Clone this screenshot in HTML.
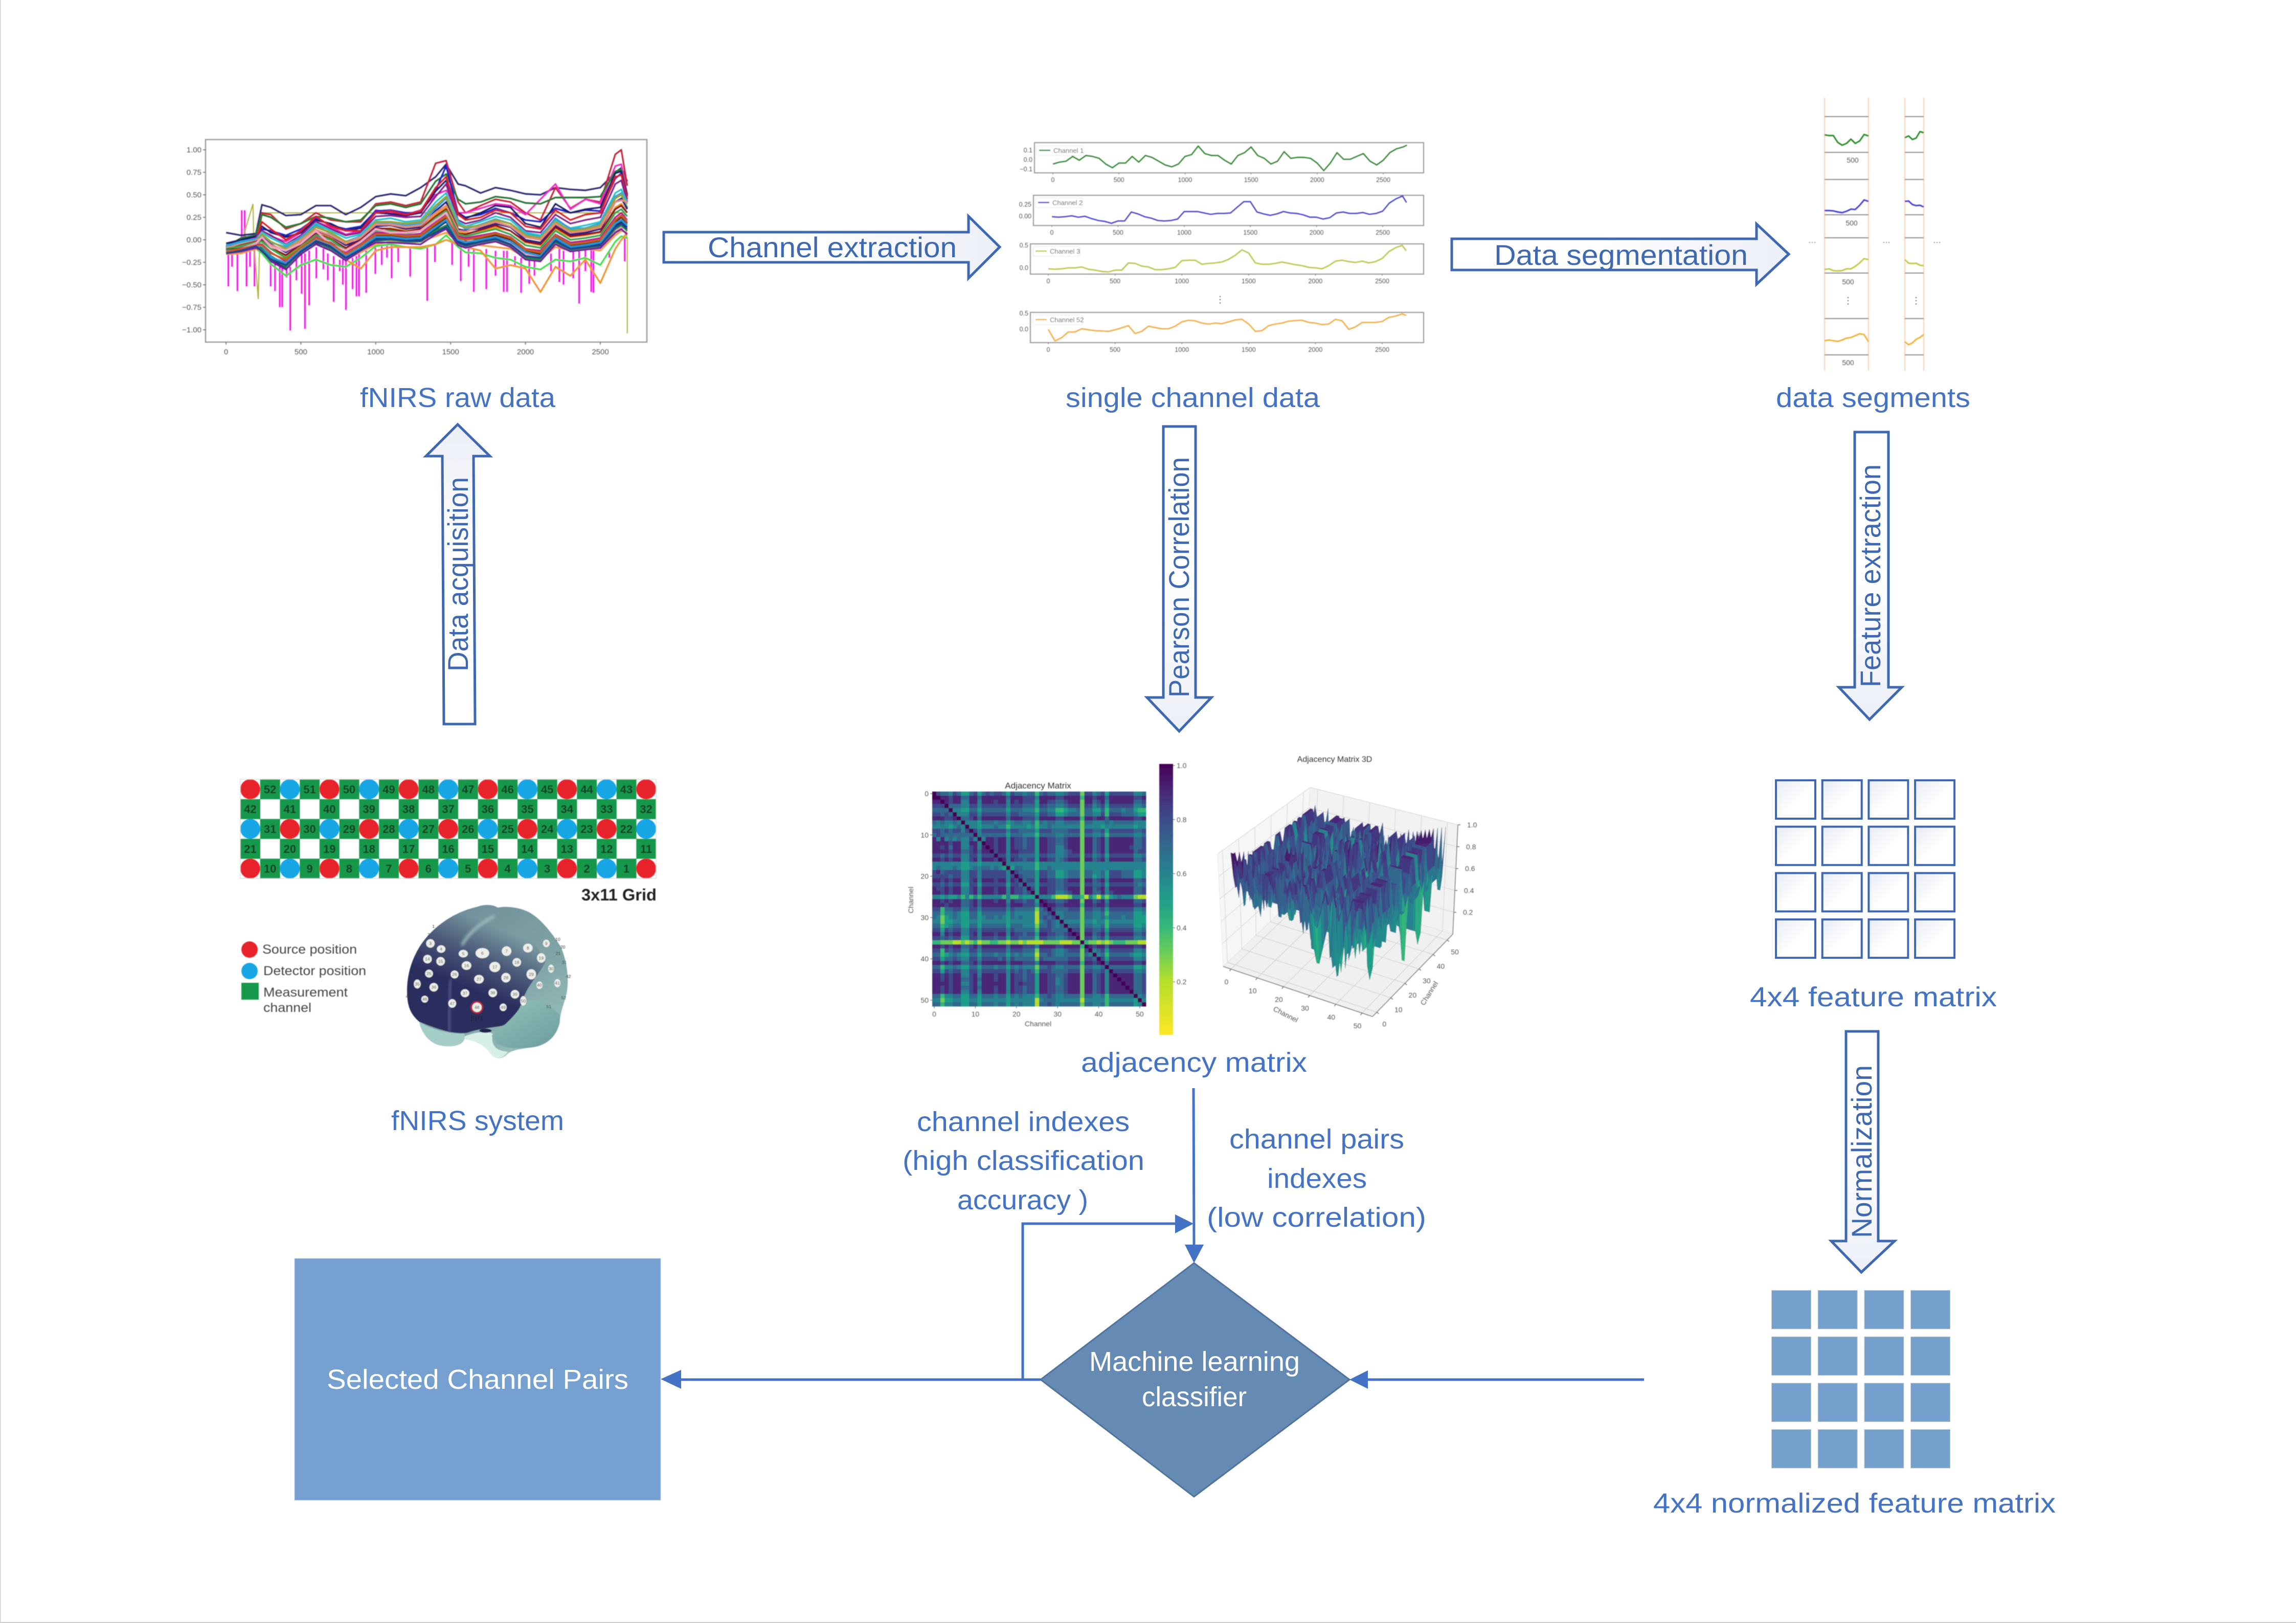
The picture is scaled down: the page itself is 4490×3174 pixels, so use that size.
<!DOCTYPE html>
<html lang="en">
<head>
<meta charset="utf-8">
<title>fNIRS channel pair selection pipeline</title>
<style>
html,body{margin:0;padding:0;background:#fff;width:4490px;height:3174px;overflow:hidden}
svg{display:block}
text{font-family:"Liberation Sans",sans-serif}
.lbl{font-size:54px;fill:#4472c4}
.arr{font-size:56px;fill:#3f68b3}
.wht{font-size:54px;fill:#fff}
.tick{font-size:14px;fill:#555}
.blk{fill:#eef1f8;stroke:#3f68b3;stroke-width:5}
.ln{stroke:#4472c4;stroke-width:5;fill:none}
.hd{fill:#4472c4}
</style>
</head>
<body>
<svg id="root" width="4490" height="3174" viewBox="0 0 4490 3174" xmlns="http://www.w3.org/2000/svg">
<defs>
<linearGradient id="gR" x1="0" x2="1" y1="0" y2="0"><stop offset="0.4" stop-color="#fff"/><stop offset="1" stop-color="#eceff7"/></linearGradient>
<linearGradient id="gD" x1="0" x2="0" y1="0" y2="1"><stop offset="0.45" stop-color="#fff"/><stop offset="1" stop-color="#eceff7"/></linearGradient>
<linearGradient id="gU" x1="0" x2="0" y1="1" y2="0"><stop offset="0.55" stop-color="#fff"/><stop offset="1" stop-color="#eceef7"/></linearGradient>
<linearGradient id="gC" x1="0" x2="0.8" y1="0" y2="0.8"><stop offset="0" stop-color="#e8ebf5"/><stop offset="0.7" stop-color="#fff"/></linearGradient>
<linearGradient id="gBar" x1="0" x2="0" y1="0" y2="1">
<stop offset="0" stop-color="#440154"/><stop offset="0.1" stop-color="#482878"/><stop offset="0.2" stop-color="#3e4a89"/><stop offset="0.3" stop-color="#31688e"/><stop offset="0.4" stop-color="#26828e"/><stop offset="0.5" stop-color="#1f9e89"/><stop offset="0.6" stop-color="#35b779"/><stop offset="0.7" stop-color="#6ece58"/><stop offset="0.8" stop-color="#b5de2b"/><stop offset="1" stop-color="#fde725"/>
</linearGradient>
<linearGradient id="gBrain" x1="0.2" x2="0.9" y1="0" y2="1"><stop offset="0" stop-color="#6f8c98"/><stop offset="0.55" stop-color="#7fa3a6"/><stop offset="1" stop-color="#9cc6c0"/></linearGradient>
<linearGradient id="gDark" x1="0.72" x2="0.36" y1="0" y2="0.8"><stop offset="0.2" stop-color="#2b2d5e" stop-opacity="0"/><stop offset="0.5" stop-color="#2b2d5e" stop-opacity="0.6"/><stop offset="0.8" stop-color="#2b2d5e" stop-opacity="1"/></linearGradient>
<linearGradient id="gRightLobe" x1="0.1" x2="0.9" y1="0" y2="1"><stop offset="0" stop-color="#8fc2b8"/><stop offset="1" stop-color="#6f9da0"/></linearGradient>
<filter id="soft" x="-5%" y="-5%" width="110%" height="110%"><feGaussianBlur stdDeviation="0.8"/></filter>
<filter id="softB" x="-5%" y="-5%" width="110%" height="110%"><feGaussianBlur stdDeviation="2.4"/></filter>
<filter id="softC" x="-40%" y="-40%" width="180%" height="180%"><feGaussianBlur stdDeviation="9"/></filter>
<clipPath id="brainClip"><path d="M580 60C620 50 700 55 760 85C830 120 900 210 950 290C985 370 1000 470 985 560C965 640 945 680 945 730C930 810 870 870 780 880C700 890 660 900 640 915C610 950 570 950 545 925C520 890 480 845 385 830C375 870 310 880 250 870C180 860 130 790 120 730C85 700 55 660 50 590C40 480 70 380 110 310C170 200 300 90 460 55C500 40 550 40 580 60Z"/></clipPath>
</defs>

<rect x="0" y="0" width="4490" height="3174" fill="#fff"/>
<rect x="0" y="0" width="1.5" height="3174" fill="#d0d0d0"/>
<rect x="0" y="3172" width="4490" height="2" fill="#cccccc"/>

<!-- block arrows -->
<polygon class="blk" style="fill:url(#gR)" points="1298,454 1894,454 1894,423 1955,483 1894,544 1894,513 1298,513"/>
<text class="arr" x="1384" y="503" textLength="487" lengthAdjust="spacingAndGlyphs">Channel extraction</text>
<polygon class="blk" style="fill:url(#gR)" points="2839,467 3435,467 3435,438 3498,497 3435,556 3435,528 2839,528"/>
<text class="arr" x="2922" y="518" textLength="496" lengthAdjust="spacingAndGlyphs">Data segmentation</text>
<polygon class="blk" style="fill:url(#gU)" points="868,1416 865,892 833,892 895,830 958,892 926,892 929,1416"/>
<text class="arr" transform="translate(915,1313) rotate(-90)" textLength="380" lengthAdjust="spacingAndGlyphs">Data acquisition</text>
<polygon class="blk" style="fill:url(#gD)" points="2275,834 2338,834 2338,1364 2369,1364 2306,1430 2243,1364 2275,1364"/>
<text class="arr" transform="translate(2325,1364) rotate(-90)" textLength="470" lengthAdjust="spacingAndGlyphs">Pearson Correlation</text>
<polygon class="blk" style="fill:url(#gD)" points="3627,845 3693,845 3693,1344 3719,1344 3656,1407 3596,1344 3627,1344"/>
<text class="arr" transform="translate(3677,1344) rotate(-90)" textLength="436" lengthAdjust="spacingAndGlyphs">Feature extraction</text>
<polygon class="blk" style="fill:url(#gD)" points="3610,2017 3673,2017 3673,2427 3705,2427 3640,2488 3581,2427 3610,2427"/>
<text class="arr" transform="translate(3660,2421) rotate(-90)" textLength="338" lengthAdjust="spacingAndGlyphs">Normalization</text>

<!-- section captions -->
<text class="lbl" x="704" y="796" textLength="382" lengthAdjust="spacingAndGlyphs">fNIRS raw data</text>
<text class="lbl" x="2084" y="796" textLength="497" lengthAdjust="spacingAndGlyphs">single channel data</text>
<text class="lbl" x="3473" y="796" textLength="380" lengthAdjust="spacingAndGlyphs">data segments</text>
<text class="lbl" x="765" y="2210" textLength="338" lengthAdjust="spacingAndGlyphs">fNIRS system</text>
<text class="lbl" x="2114" y="2096" textLength="442" lengthAdjust="spacingAndGlyphs">adjacency matrix</text>
<text class="lbl" x="3422" y="1968" textLength="483" lengthAdjust="spacingAndGlyphs">4x4 feature matrix</text>
<text class="lbl" x="3233" y="2958" textLength="787" lengthAdjust="spacingAndGlyphs">4x4 normalized feature matrix</text>
<text class="lbl" x="1793" y="2212" textLength="416" lengthAdjust="spacingAndGlyphs">channel indexes</text>
<text class="lbl" x="1765" y="2288" textLength="473" lengthAdjust="spacingAndGlyphs">(high classification</text>
<text class="lbl" x="1872" y="2365" textLength="256" lengthAdjust="spacingAndGlyphs">accuracy )</text>
<text class="lbl" x="2404" y="2246" textLength="342" lengthAdjust="spacingAndGlyphs">channel pairs</text>
<text class="lbl" x="2478" y="2323" textLength="195" lengthAdjust="spacingAndGlyphs">indexes</text>
<text class="lbl" x="2360" y="2399" textLength="429" lengthAdjust="spacingAndGlyphs">(low correlation)</text>

<!-- connectors -->
<line class="ln" x1="2334" y1="2128" x2="2335" y2="2440"/>
<polygon class="hd" points="2317,2434 2354,2434 2335,2470"/>
<polyline class="ln" points="2035,2698 2000,2698 2000,2393 2300,2393"/>
<polygon class="hd" points="2298,2375 2334,2393 2298,2412"/>
<line class="ln" x1="2035" y1="2698" x2="1330" y2="2698"/>
<polygon class="hd" points="1332,2679 1292,2697 1332,2716"/>
<line class="ln" x1="3215" y1="2698" x2="2670" y2="2698"/>
<polygon class="hd" points="2675,2680 2639,2698 2675,2716"/>

<!-- classifier + result -->
<polygon points="2335,2470 2639,2698 2335,2927 2035,2698" fill="#658ab3" stroke="#50749b" stroke-width="3"/>
<text class="wht" x="2130" y="2681" textLength="412" lengthAdjust="spacingAndGlyphs">Machine learning</text>
<text class="wht" x="2233" y="2750" textLength="205" lengthAdjust="spacingAndGlyphs">classifier</text>
<rect x="576" y="2461" width="716" height="473" fill="#75a0cf" stroke="#c8d2e0" stroke-width="1"/>
<text class="wht" x="639" y="2716" textLength="590" lengthAdjust="spacingAndGlyphs">Selected Channel Pairs</text>

<!-- script-filled groups -->
<g id="rawChart" filter="url(#soft)"></g>
<g id="channelCharts" filter="url(#soft)"></g>
<g id="segments" filter="url(#soft)"></g>
<g id="grid" filter="url(#soft)"></g>
<g id="heat" filter="url(#soft)"></g>
<g id="surf" filter="url(#soft)"></g>
<g id="featureGrid"></g>
<g id="normGrid"></g>

<!-- legend for the grid -->
<g filter="url(#soft)">
<ellipse cx="488" cy="1857" rx="16" ry="16" fill="#e8212a"/>
<text x="513" y="1865" font-size="25" fill="#444" textLength="185" lengthAdjust="spacingAndGlyphs">Source position</text>
<ellipse cx="488" cy="1899" rx="16" ry="16" fill="#12a5e5"/>
<text x="515" y="1907" font-size="25" fill="#444" textLength="201" lengthAdjust="spacingAndGlyphs">Detector position</text>
<rect x="472" y="1922" width="34" height="33" fill="#14984c"/>
<text x="515" y="1949" font-size="25" fill="#444" textLength="165" lengthAdjust="spacingAndGlyphs">Measurement</text>
<text x="515" y="1979" font-size="25" fill="#444" textLength="94" lengthAdjust="spacingAndGlyphs">channel</text>
<text x="1137" y="1761" font-size="32" font-weight="700" fill="#222" textLength="147" lengthAdjust="spacingAndGlyphs">3x11 Grid</text>
</g>

<!-- brain illustration, drawn in its own local coordinates -->
<g transform="translate(780,1755) scale(0.33333)" filter="url(#softB)">
<path d="M580 60C620 50 700 55 760 85C830 120 900 210 950 290C985 370 1000 470 985 560C965 640 945 680 945 730C930 810 870 870 780 880C700 890 660 900 640 915C610 950 570 950 545 925C520 890 480 845 385 830C375 870 310 880 250 870C180 860 130 790 120 730C85 700 55 660 50 590C40 480 70 380 110 310C170 200 300 90 460 55C500 40 550 40 580 60Z" fill="url(#gBrain)"/>
<g clip-path="url(#brainClip)">
<path d="M40 590C40 480 60 380 100 310C170 200 300 90 460 55C600 60 780 200 860 380C810 470 750 520 725 610C690 700 640 745 600 755C540 765 470 770 400 795C300 805 200 760 120 730C85 700 45 660 40 590Z" fill="url(#gDark)"/>
<path d="M560 110C500 140 420 190 370 280" fill="none" stroke="#a8c8c6" stroke-width="14" filter="url(#softC)"/>
<path d="M305 480C295 600 290 700 295 790" fill="none" stroke="#5a6392" stroke-width="12" filter="url(#softC)"/>
<path d="M120 730C200 780 300 800 385 800L385 835C375 870 310 880 250 870C180 860 130 790 120 730Z" fill="#a3cdc6"/>
<path d="M385 815C450 790 520 780 550 800C540 860 560 900 640 905C610 950 570 950 545 925C520 890 470 850 385 832Z" fill="#d6efe9"/>
<path d="M545 810C610 760 680 700 730 620C780 590 850 600 945 690C945 810 870 870 780 880C690 890 560 890 545 810Z" fill="url(#gRightLobe)"/>
<ellipse cx="508" cy="782" rx="36" ry="12" fill="#20234f"/>
</g>
<g id="electrodes"></g>
<ellipse cx="458" cy="645" rx="33" ry="33" fill="none" stroke="#c2202a" stroke-width="8"/>
<text x="460" y="725" text-anchor="middle" font-size="42" fill="#1d1d3a">FP1</text>
</g>

<script>
/* ---------- raw fNIRS data ---------- */
const rawSamples = [0,100,200,240,300, 400,500,600,700,800, 900,1000,1100,1200,1300, 1400,1470,1550,1600,1700, 1800,1900,2000,2100,2200, 2300,2400,2500,2600,2640, 2680];
const rawValues = [
[-.16,-.13,-.08,-.1,-.2, -.25,-.1,0,-.1,-.22, -.14,-.05,-.02,-.03,-.02, .04,.08,-.02,-.04,-.06, -.08,-.1,-.2,-.22,-.08, -.12,-.1,-.12,.05,.1, .08],
[-.15,-.14,-.1,-.15,-.27, -.4,-.28,-.22,-.28,-.3, -.2,-.07,-.05,-.08,-.1, -.05,.05,-.08,-.14,-.15, -.2,-.22,-.3,-.33,-.22, -.24,-.2,-.28,-.02,.04, .02],
[-.16,-.15,-.1,-.12,-.2, -.26,-.12,-.05,-.12,-.22, -.32,-.12,-.08,-.08,-.08, -.05,0,-.05,-.08,-.12, -.32,-.28,-.32,-.58,-.3, -.4,-.22,-.48,-.1,0, .08],
[.08,.05,.07,.39,.36, .27,.28,.38,.38,.28, .36,.48,.51,.49,.58, .7,.84,.62,.6,.52, .58,.55,.51,.5,.58, .56,.55,.58,.75,.8, .65],
[-.1,0,.03,.3,.28, .12,.18,.3,.22,.2, .2,.4,.42,.38,.42, .85,.88,.42,.3,.38, .45,.42,.3,.22,.58, .35,.45,.42,.95,1, .6],
[-.1,-.06,0,.1,.04, -.02,.08,.2,.14,.06, .1,.33,.3,.28,.33, .5,.55,.3,.3,.35, .4,.38,.28,.45,.62, .34,.45,.4,.82,.84, .5],
[-.08,.02,.05,.28,.25, .14,.18,.26,.24,.2, .22,.38,.4,.36,.4, .65,.73,.45,.4,.42, .48,.46,.41,.4,.47, .47,.47,.48,.76,.78, .5],
[-.06,0,.02,.12,.1, .05,.12,.24,.16,.12, .15,.32,.33,.3,.3, .55,.82,.3,.25,.28, .35,.3,.22,.2,.35, .3,.33,.32,.68,.74, .5],
[-.04,0,.04,.15,.08, .03,.08,.22,.18,.1, .13,.3,.29,.27,.3, .54,.66,.3,.24,.3, .38,.36,.18,.14,.4, .3,.34,.36,.74,.76, .48],
[-.1,-.05,0,.2,.12, 0,.1,.26,.15,.1, .1,.3,.32,.28,.32, .58,.7,.28,.22,.25, .33,.3,.15,.12,.33, .22,.28,.3,.7,.72, .45],
[-.08,-.03,.02,.1,.05, -.05,.05,.2,.12,.05, .08,.26,.27,.25,.26, .48,.62,.22,.18,.22, .3,.25,.1,.08,.28, .18,.22,.25,.62,.66, .42],
[-.06,-.04,0,.08,.02, -.06,.02,.18,.1,.02, .06,.22,.24,.2,.22, .42,.52,.2,.15,.2, .26,.22,.08,.05,.22, .13,.16,.2,.52,.56, .4],
[-.07,-.02,.01,.04,-.03, -.08,.03,.16,.07,-.02, .04,.19,.18,.16,.18, .35,.46,.18,.12,.17, .23,.18,.06,.03,.24, .12,.13,.18,.48,.52, .35],
[-.1,-.05,-.02,.06,-.02, -.1,0,.14,.08,-.02, .02,.2,.2,.18,.2, .38,.48,.16,.14,.16, .22,.18,.05,.02,.2, .1,.12,.16,.46,.5, .36],
[-.09,-.06,-.02,.03,-.05, -.14,-.03,.1,.04,-.06, 0,.15,.16,.12,.14, .32,.42,.12,.1,.13, .18,.14,0,-.03,.16, .06,.08,.12,.42,.46, .34],
[-.09,-.05,-.01,.02,-.06, -.12,-.01,.11,.05,-.04, .03,.17,.17,.14,.16, .3,.38,.1,.09,.15, .2,.15,.03,0,.18, .08,.1,.14,.42,.44, .42],
[-.12,-.08,-.04,0,-.08, -.18,-.06,.08,.02,-.1, -.02,.12,.13,.1,.12, .28,.36,.08,.07,.1, .14,.1,-.03,-.06,.12, .03,.05,.08,.36,.4, .3],
[-.11,-.06,-.02,0,-.09, -.17,-.05,.07,.01,-.09, 0,.13,.12,.09,.12, .26,.34,.07,.06,.11, .16,.1,-.02,-.05,.14, .04,.06,.09,.34,.38, .3],
[-.1,-.07,-.03,-.02,-.1, -.2,-.08,.05,0,-.12, -.03,.1,.1,.07,.1, .24,.32,.06,.04,.08, .12,.06,-.06,-.09,.1, 0,.02,.05,.3,.34, .26],
[-.13,-.09,-.05,-.05,-.14, -.24,-.1,.03,-.03,-.14, -.05,.08,.08,.05,.07, .2,.28,.04,.02,.05, .08,.03,-.1,-.12,.06, -.03,-.01,.02,.25,.3, .22],
[-.11,-.1,-.06,-.08,-.18, -.28,-.12,0,-.06,-.17, -.07,.05,.05,.03,.04, .16,.24,.01,-.02,.02, .05,0,-.13,-.16,.03, -.06,-.04,-.01,.2,.25, .18],
[-.13,-.12,-.08,-.1,-.22, -.31,-.14,-.03,-.09,-.2, -.1,.02,.02,0,.01, .12,.2,-.02,-.05,-.01, .02,-.04,-.17,-.2,0, -.09,-.07,-.05,.16,.2, .14],
[-.14,-.1,-.04,.03,-.08, -.12,-.04,.1,-.05,-.12, -.02,.12,.08,.08,.1, .22,.3,0,0,-.02, .02,-.04,-.16,-.18,-.02, -.1,-.08,-.1,.1,.14, .12],
[-.14,-.12,-.08,-.1,-.2, -.3,-.15,-.02,-.1,-.21, -.1,-.01,0,-.02,-.02, .1,.16,-.04,-.07,-.03, 0,-.06,-.2,-.22,-.03, -.11,-.09,-.07,.12,.16, .1],
[-.15,-.13,-.09,-.12,-.24, -.33,-.16,-.05,-.12,-.23, -.12,-.03,-.03,-.04,-.05, .06,.12,-.06,-.09,-.05, -.02,-.08,-.22,-.24,-.05, -.13,-.11,-.09,.08,.12, .06],
[-.12,-.11,-.07,-.07,-.19, -.26,-.11,.01,-.05,-.18, -.08,.03,.03,.01,.02, .14,.22,0,-.03,0, .03,-.02,-.14,-.18,.02, -.08,-.06,-.03,.18,.22, .16],
[-.13,-.1,-.06,-.06,-.15, -.22,-.09,.02,-.04,-.16, -.06,.06,.06,.04,.05, .18,.26,.02,0,.03, .07,.02,-.11,-.14,.05, -.05,-.03,0,.22,.27, .2],
[-.15,-.12,-.07,-.13,-.22, -.28,-.13,-.02,-.08,-.2, -.11,0,.01,-.01,-.01, .08,.14,-.03,-.06,-.02, .01,-.05,-.18,-.2,-.01, -.1,-.08,-.06,.14,.18, .12]
];
const spikeSamples = [15,40,76,105,125,137,160,190,298,327, 359,375,405,429,470,505,527,555,603,650, 680,719,760,780,801,845,871,888,936,997, 1040,1075,1106,1150,1230,1344,1395,1510,1568,1620, 1655,1738,1800,1855,1877,1930,1971,2025,2060,2170, 2226,2254,2319,2358,2400,2439,2454,2560,2663];
const spikeValues = [-.52,-.3,-.57,.33,.33,-.52,-.3,-.52,-.52,-.57, -.75,-.75,-.42,-1.01,-.45,-.6,-.99,-.73,-.43,-.33, -.45,-.69,-.35,-.5,-.78,-.55,-.63,-.63,-.59,-.38, -.28,-.2,-.43,-.25,-.41,-.68,-.25,-.28,-.46,-.3, -.58,-.55,-.4,-.58,-.58,-.3,-.59,-.49,-.4,-.35, -.47,-.5,-.43,-.71,-.35,-.58,-.59,-.2,-.24];
const spikeBases = [-.12,-.12,-.15,-.05,-.05,-.12,-.12,-.1,-.2,-.22, -.25,-.28,-.3,-.3,-.15,-.15,-.15,-.12,-.08,-.1, -.15,-.18,-.22,-.22,-.22,-.2,-.18,-.15,-.12,-.08, -.06,-.05,-.06,-.06,-.08,-.08,-.04,-.03,-.05,-.1, -.1,-.1,-.12,-.12,-.12,-.18,-.2,-.2,-.22,-.15, -.1,-.12,-.1,-.1,-.12,-.1,-.1,-.12,.05];
const oliveSamples = [0,100,180,185,215,225,240,2660,2680,2680];
const oliveValues = [-.1,-.05,.4,0,-.66,0,.3,.3,0,-1.04];
const rawXTicks = [0,500,1000,1500,2000,2500];
const rawYTicks = [1,.75,.5,.25,0,-.25,-.5,-.75,-1];
const rawYLabels = ['1.00','0.75','0.50','0.25','0.00','\u22120.25','\u22120.50','\u22120.75','\u22121.00'];

/* ---------- single channel data ---------- */
const chSamples = [0,50,100,150,200,250,300,350,400,450, 500,550,600,650,700,750,800,850,900,950, 1000,1050,1100,1150,1200,1250,1300,1350,1400,1450, 1500,1550,1600,1650,1700,1750,1800,1850,1900,1950, 2000,2050,2100,2150,2200,2250,2300,2350,2400,2450, 2500,2550,2600,2650,2680];
const channel1 = [-.05,-.03,-.02,.03,-.01,.04,.03,.01,-.05,-.09, -.04,-.04,.03,-.03,.04,.02,-.02,-.06,-.08,-.05, .03,.05,.14,.06,.04,.04,-.01,-.05,.04,.07, .13,.04,.01,-.05,-.02,.08,.01,.02,.02,.01, -.04,-.12,-.04,.07,0,0,.03,.06,-.02,-.06, -.01,.07,.11,.13,.15];
const channel2 = [-.02,-.03,-.02,0,-.03,-.01,-.06,-.1,-.12,-.16, -.11,-.11,.08,.04,-.02,-.05,-.1,-.11,-.1,-.07, .09,.09,.09,.06,.03,.05,.05,.06,.18,.3, .3,.08,.04,.01,.04,.09,.06,.05,.02,-.03, -.03,-.07,-.04,.06,.08,.05,.05,.07,.03,.05, .1,.27,.36,.42,.28];
const channel3 = [-.03,-.04,-.03,-.01,-.01,.01,-.04,-.06,-.09,-.1, -.06,-.06,.1,.09,.03,.01,-.05,-.05,-.03,0, .15,.16,.16,.07,.09,.1,.12,.18,.27,.39, .32,.1,.07,.07,.09,.12,.09,.06,.04,0, -.01,-.03,.04,.14,.16,.13,.11,.14,.1,.13, .2,.35,.44,.49,.37];
const channel52 = [-.02,-.38,-.28,-.1,-.1,0,-.03,-.06,-.07,-.08, -.03,.03,.1,-.15,-.08,.08,.04,0,0,.08, .22,.27,.25,.18,.15,.18,.16,.22,.28,.3, .15,-.08,-.06,.1,.15,.18,.24,.26,.27,.2, .18,.13,.15,.3,.25,-.02,.06,.2,.2,.2, .23,.36,.4,.47,.42];
const chXTicks = [0,500,1000,1500,2000,2500];

/* ---------- data segments (fraction of panel height) ---------- */
const segGreenA = [.49,.47,.47,.28,.2,.25,.37,.25,.32,.5,.46];
const segGreenB = [.41,.46,.36,.4,.58,.55];
const segBlueA = [.12,.12,.11,.08,.06,.1,.16,.15,.27,.42,.38];
const segBlueB = [.38,.39,.29,.26,.27,.22];
const segOliveA = [.1,.12,.07,.06,.07,.12,.12,.19,.29,.41,.38];
const segOliveB = [.38,.28,.27,.28,.22,.21];
const segOrangeA = [.39,.41,.39,.37,.41,.46,.48,.53,.58,.56,.36];
const segOrangeB = [.36,.28,.33,.43,.48,.56];

/* ---------- adjacency matrix, digit d means correlation d/9 ---------- */
const adjacencyRows = [
"9766576446 7467677647 6656636766 5567772775 6747777775 56",
"9988788668 8688888868 8877758888 7788883887 8868888887 78",
"8898788558 8588878858 7877748877 6678882886 7858888886 67",
"7779666557 7577777757 7766647766 5567772775 6747777775 56",
"6666955446 6466666646 6655536655 3345562664 4636665664 33",
"7767695557 7577777757 7666647766 4456662665 5737776665 44",
"8887789667 8688888868 8877758888 7788883887 8868888887 78",
"6565565955 5466656645 6655636566 5566662665 5565666665 55",
"5555456595 5455565535 5554535565 5555552555 5455555554 55",
"7767677579 7577777757 7666647776 6667772776 6747777776 67",
"6766666666 9566666646 6655536666 5566662665 5636666665 56",
"8585656557 5958878858 7767748877 6678882886 7858888886 67",
"8888788558 8598878858 7767748877 6678882886 7858888886 67",
"8878688557 8589878858 7767748877 5578882886 7858888876 67",
"8888788667 8688978858 8777748877 5567882886 7858888886 77",
"7767677557 7577797757 7666647766 5567772775 6747777775 56",
"8878788557 8588879858 7767748877 5678882886 7858888886 67",
"5555555445 5455555955 5555535555 5555552555 5555555555 55",
"5655565445 6566565494 6655535565 5555552555 5555555555 55",
"7867777557 7577777759 7666647766 4456662665 5647776664 45",
"7777677557 7577777757 9766647766 4456662664 5647776664 45",
"8878788557 8588878858 7967748877 6678882886 7858888886 67",
"7767677447 7477777747 7696647777 6677772776 6747777776 56",
"8778788557 8588878858 7769748877 6678882886 7858888886 67",
"8878788557 8588878858 7767948877 5567882886 6857888886 67",
"5545445353 5355555353 3544495553 1112553153 1424565552 11",
"8878788667 8688878858 7767749877 6678882886 7858888886 67",
"8887888667 8688888868 8877758988 7788883887 8868888887 78",
"7736677557 7577777757 6666626797 6667772776 6747777775 56",
"6635565446 6466666646 5555516679 5566662665 5636666664 45",
"6524565446 6456656546 5655516767 9566662665 5646665664 44",
"5524455445 5455555545 5555515676 5955552554 5535555554 44",
"6634566446 6466666646 6655526676 5696662665 5636666664 45",
"7747677557 7577777757 6666637776 6669772776 6747777775 56",
"8858788557 8588878858 7767748877 6678982886 7858888886 67",
"7767677447 7577767747 7666637766 5567792775 6747777775 56",
"3322211212 3122332212 2121111222 2111229322 1212333222 11",
"8878788667 8688888868 8877758888 7788883987 8868888887 78",
"7737677557 7577777757 7766627776 5567772795 6747777775 56",
"6634565446 6466656646 5655516676 5566662659 5636666654 45",
"7746676557 7577776757 6666627666 6667772776 9747777775 56",
"8878788667 8688888868 8877758888 7778883887 8968888887 78",
"6635565446 6466656646 5655526676 5566662665 5696666664 45",
"7747677557 7577777757 6767637776 6667772776 6759777775 56",
"8878788557 8588878858 7767748877 6678882886 7858988886 67",
"8878788667 8688878858 7767748877 5678882886 7858898886 67",
"8888788557 8588888858 7877748877 5678882886 7858889886 67",
"8878788667 8688878858 7767748877 6678882886 7858888986 67",
"8878788557 8588878858 7767748877 6678882886 7858888896 67",
"6635566446 6466656646 5655536676 5566662665 5636666669 56",
"5524455445 5455555545 5555515666 5555551555 5535555554 95",
"6635566446 6466656646 5655516676 5666662665 5636666664 59"
];
const heatTicks = [0,10,20,30,40,50];
const barTicks = [1,.8,.6,.4,.2];
const barLabels = ['1.0','0.8','0.6','0.4','0.2'];
const surfaceTicks = [0,10,20,30,40,50];
const surfaceZTicks = [.2,.4,.6,.8,1];
const surfaceZLabels = ['0.2','0.4','0.6','0.8','1.0'];

/* ---------- channel grid ---------- */
const gridNumbers = [
[52,51,50,49,48,47,46,45,44,43],
[42,41,40,39,38,37,36,35,34,33,32],
[31,30,29,28,27,26,25,24,23,22],
[21,20,19,18,17,16,15,14,13,12,11],
[10,9,8,7,6,5,4,3,2,1]
];
const gridMarkers = ['RBRBRBRBRBR','','BRBRBRBRBRB','','RBRBRBRBRBR'];

/* ---------- helpers ---------- */
const NS = 'http://www.w3.org/2000/svg';
function mk(tag, attrs, parent){
  const e = document.createElementNS(NS, tag);
  for (const k in attrs) e.setAttribute(k, attrs[k]);
  parent.appendChild(e);
  return e;
}
function txt(parent, name, s, x, y, size, anchor, fill, rot){
  const t = mk('text', {x:x, y:y, 'font-size':size, 'text-anchor':anchor||'middle', fill:fill||'#555'}, parent);
  
  
  if (rot) t.setAttribute('transform', 'rotate(' + rot + ' ' + x + ' ' + y + ')');
  t.textContent = s;
  return t;
}
function pathFrom(xs, ys, fx, fy){
  let d = '';
  for (let i = 0; i < xs.length; i++) d += (i ? 'L' : 'M') + fx(xs[i]).toFixed(1) + ' ' + fy(ys[i]).toFixed(1);
  return d;
}
const VIR = [[68,1,84],[72,40,120],[62,74,137],[49,104,142],[38,130,142],[31,158,137],[53,183,121],[109,205,89],[180,222,44],[253,231,37]];
function viridisR(v){
  const t = Math.max(0, Math.min(1, 1 - v)) * (VIR.length - 1);
  const a = Math.floor(t), b = Math.min(VIR.length - 1, a + 1), f = t - a;
  const c = [0,1,2].map(k => Math.round(VIR[a][k] + (VIR[b][k] - VIR[a][k]) * f));
  return 'rgb(' + c.join(',') + ')';
}
const root = document.getElementById('root');

/* ---------- raw chart ---------- */
(function(){
  const g = document.getElementById('rawChart');
  const rawX = s => 442 + s * 0.2928;
  const rawY = v => 469 - v * 176;
  const frame = mk('rect', {x:402, y:273, width:863, height:396, fill:'#fff', stroke:'#9a9a9a', 'stroke-width':2.5}, g);
  
  
  spikeSamples.forEach(function(s, i){
    const l = mk('line', {x1:rawX(s), x2:rawX(s), y1:rawY(spikeBases[i]), y2:rawY(spikeValues[i]), stroke:'#ff00f0', 'stroke-width':3.8}, g);
    
    
  });
  const olive = mk('path', {d:pathFrom(oliveSamples, oliveValues, rawX, rawY), fill:'none', stroke:'#b5b520', 'stroke-width':2.4}, g);
  
  
  const colors = ['#f2a33a','#3fe04a','#ee9a2c','#2a2a7c','#c8213f','#ee2fc4','#1f7a2e','#1726c8','#1c1c6e','#d81e2c','#8a1f8f','#18c8d0','#36a0d8','#9aa520','#10208a','#e88a7a','#f29a18','#8a1020','#2ea84a','#c01890','#6a1810','#14145a','#f0a8c8','#0d8a3a','#7a1fa0','#1a9ad8','#c06010','#204090'];
  rawValues.forEach(function(series, i){
    const p = mk('path', {d:pathFrom(rawSamples, series, rawX, rawY), fill:'none', stroke:colors[i % colors.length], 'stroke-width':3.8, 'stroke-linejoin':'round'}, g);
    
    
  });
  rawXTicks.forEach(function(t){
    const l = mk('line', {x1:rawX(t), x2:rawX(t), y1:669, y2:674, stroke:'#666', 'stroke-width':1.5}, g);
    
    
    txt(g, 'raw-x-tick-label', String(t), rawX(t), 693, 15);
  });
  rawYTicks.forEach(function(v, i){
    const l = mk('line', {x1:397, x2:402, y1:rawY(v), y2:rawY(v), stroke:'#666', 'stroke-width':1.5}, g);
    
    
    txt(g, 'raw-y-tick-label', rawYLabels[i], 394, rawY(v) + 5, 15, 'end');
  });
})();

/* ---------- single channel charts ---------- */
(function(){
  const g = document.getElementById('channelCharts');
  const panels = [
    {name:'Channel 1', vals:channel1, color:'#2a8f2a', fx:[2023,2784,279,338], x0:2059, x2500:2705, yA:[.1,293], yB:[-.1,330], ticks:[.1,0,-.1], labels:['0.1','0.0','\u22120.1'], lx:2027, ly:285},
    {name:'Channel 2', vals:channel2, color:'#4a45d0', fx:[2021,2784,382,441], x0:2057, x2500:2704, yA:[.25,399], yB:[0,422], ticks:[.25,0], labels:['0.25','0.00'], lx:2025, ly:387},
    {name:'Channel 3', vals:channel3, color:'#bfcb45', fx:[2015,2784,477,536], x0:2050, x2500:2703, yA:[.5,479], yB:[0,523], ticks:[.5,0], labels:['0.5','0.0'], lx:2020, ly:482},
    {name:'Channel 52', vals:channel52, color:'#f2b33c', fx:[2015,2784,611,670], x0:2050, x2500:2703, yA:[.5,612], yB:[0,643], ticks:[.5,0], labels:['0.5','0.0'], lx:2020, ly:616}
  ];
  panels.forEach(function(pn){
    const f = pn.fx;
    const x = s => pn.x0 + s * (pn.x2500 - pn.x0) / 2500;
    const y = v => pn.yB[1] + (v - pn.yB[0]) * (pn.yA[1] - pn.yB[1]) / (pn.yA[0] - pn.yB[0]);
    const r = mk('rect', {x:f[0], y:f[2], width:f[1]-f[0], height:f[3]-f[2], fill:'#fff', stroke:'#999', 'stroke-width':2.2}, g);
    
    
    const p = mk('path', {d:pathFrom(chSamples, pn.vals, x, y), fill:'none', stroke:pn.color, 'stroke-width':3, 'stroke-linejoin':'round'}, g);
    
    
    const lb = mk('rect', {x:pn.lx, y:pn.ly, width:pn.name.length > 9 ? 97 : 92, height:19, fill:'#fff', stroke:'#e6e6e6', 'stroke-width':1, rx:2}, g);
    
    
    const ll = mk('line', {x1:pn.lx+5, x2:pn.lx+27, y1:pn.ly+9, y2:pn.ly+9, stroke:pn.color, 'stroke-width':2.4}, g);
    
    
    txt(g, 'channel-legend-label', pn.name, pn.lx+33, pn.ly+14, 13, 'start');
    chXTicks.forEach(function(t){
      const l = mk('line', {x1:x(t), x2:x(t), y1:f[3], y2:f[3]+3, stroke:'#666', 'stroke-width':1}, g);
      
      
      txt(g, 'channel-x-tick-label', String(t), x(t), f[3]+18, 12.5);
    });
    pn.ticks.forEach(function(v, i){
      txt(g, 'channel-y-tick-label', pn.labels[i], f[0]-4, y(v)+5, 12.5, 'end');
    });
  });
  txt(g, 'channel-ellipsis', '\u22ee', 2386, 592, 18, 'middle', '#444');
})();

/* ---------- data segments ---------- */
(function(){
  const g = document.getElementById('segments');
  const rows = [
    {top:228, bot:298, a:segGreenA, b:segGreenB, color:'#2a8f2a', tx:3623, ty:318},
    {top:351, bot:420, a:segBlueA, b:segBlueB, color:'#4a45d0', tx:3621, ty:441},
    {top:465, bot:534, a:segOliveA, b:segOliveB, color:'#bfcb45', tx:3614, ty:556},
    {top:623, bot:694, a:segOrangeA, b:segOrangeB, color:'#f2b33c', tx:3614, ty:714}
  ];
  [3568,3654,3725,3762].forEach(function(x){
    const v = mk('line', {x1:x, x2:x, y1:191, y2:725, stroke:'#fbd6c4', 'stroke-width':2.5}, g);
    
    
  });
  rows.forEach(function(r){
    [[3568,3654,r.a],[3725,3762,r.b]].forEach(function(w){
      [r.top, r.bot].forEach(function(yy){
        const l = mk('line', {x1:w[0], x2:w[1], y1:yy, y2:yy, stroke:'#8c8c8c', 'stroke-width':2}, g);
        
        
      });
      const vals = w[2];
      const xs = vals.map((_, i) => i);
      const p = mk('path', {d:pathFrom(xs, vals, i => w[0] + i * (w[1]-w[0]) / (vals.length-1), v => r.bot - v * (r.bot - r.top)), fill:'none', stroke:r.color, 'stroke-width':3, 'stroke-linejoin':'round'}, g);
      
      
    });
    txt(g, 'segment-tick-label', '500', r.tx, r.ty, 14);
  });
  [3544,3689,3788].forEach(function(x){ txt(g, 'segment-dots', '\u2026', x, 475, 16, 'middle', '#444'); });
  [3614,3747].forEach(function(x){ txt(g, 'segment-vertical-dots', '\u22ee', x, 594, 18, 'middle', '#444'); });
})();

/* ---------- channel grid ---------- */
(function(){
  const g = document.getElementById('grid');
  const X0 = 470, Y0 = 1524, CW = 813/21, CH = 194/5;
  const colors = {R:'#e8212a', B:'#12a5e5'};
  for (let r = 0; r < 5; r++){
    const numberCols = r % 2 === 0 ? 1 : 0;
    gridNumbers[r].forEach(function(n, k){
      const col = numberCols + k * 2;
      const c = mk('rect', {x:X0 + col*CW, y:Y0 + r*CH, width:CW+.3, height:CH+.3, fill:'#14984c'}, g);
      
      
      txt(g, 'channel-number', String(n), X0 + (col+.5)*CW, Y0 + (r+.5)*CH + 8, 22, 'middle', '#143a20').setAttribute('font-weight', '700');
    });
    gridMarkers[r].split('').forEach(function(m, k){
      const e = mk('ellipse', {cx:X0 + (k*2+.5)*CW, cy:Y0 + (r+.5)*CH, rx:19.5, ry:19.5, fill:colors[m]}, g);
      
      
    });
  }
  const b = mk('rect', {x:X0, y:Y0, width:813, height:194, fill:'none', stroke:'#cfcfcf', 'stroke-width':1}, g);
  
  
})();

/* ---------- brain electrodes (illustration, local coordinates) ---------- */
(function(){
  const g = document.getElementById('electrodes');
  const spots = [[185,270,25,25,'3'],[248,303,25,22,'4'],[168,362,25,25,'14'],[245,375,25,25,'15'],[378,330,27,22,'5'],[490,327,40,30,'6'],[632,315,28,28,'7'],[757,297,28,26,'8'],[865,270,20,22,'9'],[397,400,28,25,'16'],[563,408,32,30,'17'],[692,381,25,25,'18'],[835,355,25,28,'19'],[893,418,17,24,'30'],[177,447,23,23,'25'],[327,452,23,23,'26'],[470,480,28,25,'27'],[628,471,27,28,'28'],[777,451,28,30,'29'],[108,508,20,26,'35'],[205,527,25,25,'36'],[388,562,25,23,'37'],[551,560,25,25,'38'],[681,568,25,25,'39'],[825,515,18,22,'40'],[930,503,18,24,'41'],[152,597,20,20,'46'],[313,622,23,25,'47'],[458,645,28,28,'48'],[612,645,20,22,'49'],[730,607,18,28,'50']];
  spots.forEach(function(s){
    const e = mk('ellipse', {cx:s[0], cy:s[1], rx:s[2], ry:s[3], fill:'#eceee9'}, g);
    
    
    txt(g, 'electrode-number', s[4], s[0], s[1]+9, 26, 'middle', '#333');
  });
  const outer = [[203,178,'1'],[175,228,'2'],[118,332,'13'],[95,432,'24'],[55,590,'45'],[933,255,'10'],[962,300,'20'],[935,338,'21'],[970,390,'31'],[995,472,'42'],[967,597,'52'],[880,650,'51']];
  outer.forEach(function(s){
    txt(g, 'electrode-outer-number', s[2], s[0], s[1], 26, 'middle', '#333');
  });
})();

/* ---------- heatmap ---------- */
const adjacency = adjacencyRows.map(r => r.replace(/ /g, '').split('').map(d => Number(d) / 9));
(function(){
  const g = document.getElementById('heat');
  const hx0 = 1823, hx1 = 2241, hy0 = 1548, hy1 = 1968;
  const n = adjacency.length;
  const cw = (hx1 - hx0) / n, ch = (hy1 - hy0) / n;
  const hX = i => hx0 + i * cw, hY = i => hy0 + i * ch;
  adjacency.forEach(function(row, r){
    row.forEach(function(v, c){
      const e = mk('rect', {x:hX(c).toFixed(2), y:hY(r).toFixed(2), width:(cw+.4).toFixed(2), height:(ch+.4).toFixed(2), fill:viridisR(v)}, g);
      
      
    });
  });
  heatTicks.forEach(function(t){
    const l = mk('line', {x1:hX(t+.5), x2:hX(t+.5), y1:hy1, y2:hy1+4, stroke:'#555', 'stroke-width':1}, g);
    
    
    txt(g, 'heatmap-x-tick-label', String(t), hX(t+.5), hy1+20, 14);
    const m = mk('line', {x1:hx0-4, x2:hx0, y1:hY(t+.5), y2:hY(t+.5), stroke:'#555', 'stroke-width':1}, g);
    
    
    txt(g, 'heatmap-y-tick-label', String(t), hx0-7, hY(t+.5)+5, 14, 'end');
  });
  txt(g, 'heatmap-title', 'Adjacency Matrix', 2030, 1542, 17, 'middle', '#333');
  txt(g, 'heatmap-x-axis-title', 'Channel', 2030, 2007, 14);
  txt(g, 'heatmap-y-axis-title', 'Channel', 1786, 1760, 14, 'middle', '#555', -90);
  const bar = mk('rect', {x:2267, y:1494, width:27, height:530, fill:'url(#gBar)'}, g);
  
  
  const barY = v => 2025 - v * 529;
  barTicks.forEach(function(v, i){
    const l = mk('line', {x1:2294, x2:2298, y1:barY(v)+1, y2:barY(v)+1, stroke:'#555', 'stroke-width':1}, g);
    
    
    txt(g, 'colorbar-tick-label', barLabels[i], 2301, barY(v)+6, 14, 'start');
  });
})();

/* ---------- 3D surface ---------- */
(function(){
  const g = document.getElementById('surf');
  const FL = [2392,1890], FF = [2684,1988], FR = [2841,1827], FB = [2551,1739];
  const TL = [2381,1670], TF = [2690,1758], TR = [2851,1613], TB = [2562,1540];
  const bil = (A,B,C,D,u,v) => [0,1].map(k => A[k]*(1-u)*(1-v) + B[k]*u*(1-v) + C[k]*u*v + D[k]*(1-u)*v);
  const floorPt = (u,v) => bil(FL,FF,FR,FB,u,v);
  const topPt = (u,v) => bil(TL,TF,TR,TB,u,v);
  const uOf = i => (i + 3) / 57;
  const proj = (i,j,z) => {
    const a = floorPt(uOf(i),uOf(j)), b = topPt(uOf(i),uOf(j));
    return [a[0] + (b[0]-a[0])*z, a[1] + (b[1]-a[1])*z];
  };
  const poly = (pts, fill, stroke, name) => {
    const p = mk('polygon', {points:pts.map(q => q[0].toFixed(1)+','+q[1].toFixed(1)).join(' '), fill:fill, stroke:stroke, 'stroke-width':.8}, g);
    
    
    return p;
  };
  poly([FL,FB,TB,TL], '#f6f6f6', '#e4e4e4', 'surface-left-wall');
  poly([FB,FR,TR,TB], '#f2f2f2', '#e4e4e4', 'surface-right-wall');
  poly([FL,FF,FR,FB], '#f0f0f0', '#dddddd', 'surface-floor');
  const seg = (a,b,c,w,name) => {
    const l = mk('line', {x1:a[0], y1:a[1], x2:b[0], y2:b[1], stroke:c, 'stroke-width':w}, g);
    
    
  };
  surfaceTicks.forEach(function(t){
    const u = uOf(t);
    seg(floorPt(u,0), floorPt(u,1), '#d0d0d0', 1.2, 'surface-gridline');
    seg(floorPt(0,u), floorPt(1,u), '#d0d0d0', 1.2, 'surface-gridline');
    seg(floorPt(0,u), topPt(0,u), '#d8d8d8', 1.2, 'surface-gridline');
    seg(floorPt(u,1), topPt(u,1), '#d8d8d8', 1.2, 'surface-gridline');
  });
  surfaceZTicks.forEach(function(z, idx){
    const at = (u,v) => { const a = floorPt(u,v), b = topPt(u,v); return [a[0]+(b[0]-a[0])*z, a[1]+(b[1]-a[1])*z]; };
    seg(at(0,0), at(0,1), '#d8d8d8', 1.2, 'surface-gridline');
    seg(at(0,1), at(1,1), '#d8d8d8', 1.2, 'surface-gridline');
    const q = at(1,1);
    seg(q, [q[0]+5,q[1]], '#555', 1.2, 'surface-z-tick');
    txt(g, 'surface-z-tick-label', surfaceZLabels[idx], q[0]+18, q[1]+5, 14, 'start');
  });
  seg(FL, FF, '#777', 1.5, 'surface-x-axis');
  seg(FF, FR, '#777', 1.5, 'surface-y-axis');
  seg(FR, TR, '#777', 1.5, 'surface-z-axis');
  const n = adjacency.length;
  for (let i = 0; i < n - 1; i++){
    for (let j = n - 2; j >= 0; j--){
      const z = [adjacency[i][j], adjacency[i+1][j], adjacency[i+1][j+1], adjacency[i][j+1]];
      const avg = (z[0]+z[1]+z[2]+z[3]) / 4;
      const c = viridisR(avg);
      const f = mk('polygon', {points:[proj(i,j,z[0]),proj(i+1,j,z[1]),proj(i+1,j+1,z[2]),proj(i,j+1,z[3])].map(q => q[0].toFixed(1)+','+q[1].toFixed(1)).join(' '), fill:c, stroke:c, 'stroke-width':.5}, g);
      
      
    }
  }
  surfaceTicks.forEach(function(t){
    const a = floorPt(uOf(t),0), b = floorPt(1,uOf(t));
    seg(a, [a[0]-3,a[1]+4], '#555', 1.2, 'surface-x-tick');
    seg(b, [b[0]+4,b[1]+3], '#555', 1.2, 'surface-y-tick');
    txt(g, 'surface-x-tick-label', String(t), a[0]-9, a[1]+30, 14);
    txt(g, 'surface-y-tick-label', String(t), b[0]+15, b[1]+28, 14);
  });
  txt(g, 'surface-title', 'Adjacency Matrix 3D', 2610, 1490, 16, 'middle', '#333');
  txt(g, 'surface-x-axis-title', 'Channel', 2512, 1988, 14, 'middle', '#555', 27);
  txt(g, 'surface-y-axis-title', 'Channel', 2799, 1945, 14, 'middle', '#555', -58);
})();

/* ---------- feature matrices ---------- */
(function(){
  const f = document.getElementById('featureGrid');
  const n = document.getElementById('normGrid');
  for (let r = 0; r < 4; r++){
    for (let c = 0; c < 4; c++){
      const a = mk('rect', {x:3473 + c*90.7, y:1526 + r*90.7, width:77, height:75, fill:'url(#gC)', stroke:'#3f68b3', 'stroke-width':4}, f);
      
      
      const b = mk('rect', {x:3464.5 + c*90.7, y:2523.5 + r*90.7, width:77, height:75.5, fill:'#759fcd', stroke:'#c8c8c8', 'stroke-width':1}, n);
      
      
    }
  }
})();
</script>
</svg>
</body>
</html>
